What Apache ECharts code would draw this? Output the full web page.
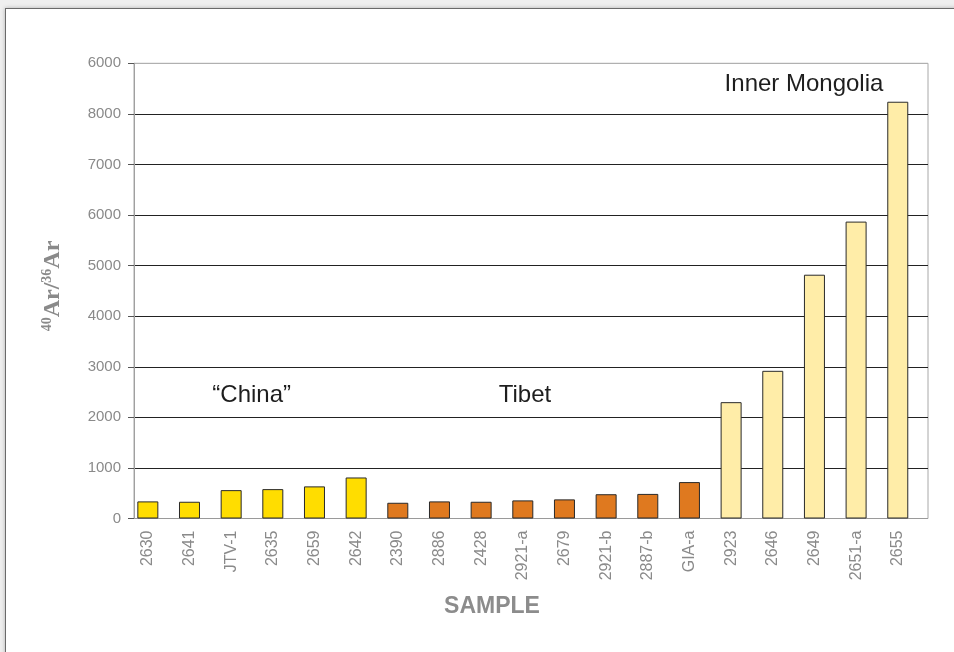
<!DOCTYPE html>
<html>
<head>
<meta charset="utf-8">
<script src="https://cdn.jsdelivr.net/npm/echarts@6/dist/echarts.min.js"></script>
<style>
  html, body { margin:0; padding:0; width:954px; height:652px; overflow:hidden; background:#efefef; }
  #card { position:absolute; left:5px; top:8px; width:1000px; height:700px; background:#fff;
          border:1px solid #6a6a6a; box-shadow:0 0 4px rgba(0,0,0,0.25); }
  #chart { position:absolute; left:0; top:0; width:954px; height:652px; }
</style>
</head>
<body>
<div id="card"></div>
<div id="chart"></div>
<script>
// ---- data ----
const chinaSamples = ['2630','2641','JTV-1','2635','2659','2642'];
const chinaValues  = [338, 331, 561, 581, 635, 811];
const tibetSamples = ['2390','2886','2428','2921-a','2679','2921-b','2887-b','GIA-a'];
const tibetValues  = [311, 338, 331, 358, 378, 480, 486, 720];
const mongoliaSamples = ['2923','2646','2649','2651-a','2655'];
const mongoliaValues  = [2300, 2920, 4820, 5870, 8240];
const yTickLabels = ['0','1000','2000','3000','4000','5000','6000','7000','8000','6000'];
const groupLabels = ['\u201CChina\u201D', 'Tibet', 'Inner Mongolia'];

// ---- build ----
const categories = chinaSamples.concat(tibetSamples, mongoliaSamples);
const colors = { china:'#FFDD00', tibet:'#DF791F', mongolia:'#FFEDA8' };
const barData = []
  .concat(chinaValues.map(v => ({ value:v, itemStyle:{ color:colors.china } })))
  .concat(tibetValues.map(v => ({ value:v, itemStyle:{ color:colors.tibet } })))
  .concat(mongoliaValues.map(v => ({ value:v, itemStyle:{ color:colors.mongolia } })));

const gridTop = 63.3, gridBottom = 652 - 518.5;
const splitColors = yTickLabels.map((t, i) => i === 0 ? '#9a9a9a' : (i === yTickLabels.length - 1 ? '#b0b0b0' : '#222222'));
const sans = 'Liberation Sans, Arial, sans-serif';
const serif = 'Liberation Serif, Times New Roman, serif';

const chart = echarts.init(document.getElementById('chart'), null, { renderer:'canvas' });
chart.setOption({
  backgroundColor:'transparent',
  animation:false,
  grid:[
    { left:134, right:26, top:gridTop, bottom:gridBottom, show:true, borderColor:'#a8a8a8', borderWidth:1, backgroundColor:'transparent' },
    { left:127, right:35.4, top:gridTop, bottom:gridBottom }
  ],
  xAxis:[
    { gridIndex:0, type:'value', min:0, max:1, show:false },
    { gridIndex:1, type:'category', data:categories,
      axisLine:{ show:false }, axisTick:{ show:false },
      axisLabel:{ rotate:90, margin:12, color:'#8a8a8a', fontSize:16, fontFamily:sans, interval:0 } }
  ],
  yAxis:[
    { gridIndex:0, type:'value', min:0, max:9000, interval:1000,
      axisLine:{ show:true, lineStyle:{ color:'#a0a0a0', width:1 } },
      axisTick:{ show:true, length:6, lineStyle:{ color:'#555' } },
      axisLabel:{ margin:13, color:'#8a8a8a', fontSize:15, fontFamily:sans,
                  formatter: v => yTickLabels[Math.round(v / 1000)] },
      splitLine:{ show:true, lineStyle:{ color:splitColors, width:1 } } },
    { gridIndex:1, type:'value', min:0, max:9000, show:false, splitLine:{ show:false } }
  ],
  series:[
    { type:'bar', xAxisIndex:1, yAxisIndex:1, data:barData, barWidth:21,
      itemStyle:{ borderColor:'#2a2a2a', borderWidth:1 } }
  ],
  graphic:[
    { type:'text', x:251.7, y:395, style:{ text:groupLabels[0], fill:'#1e1e1e', fontSize:24, fontFamily:sans, align:'center', verticalAlign:'middle' } },
    { type:'text', x:525, y:395, style:{ text:groupLabels[1], fill:'#1e1e1e', fontSize:24, fontFamily:sans, align:'center', verticalAlign:'middle' } },
    { type:'text', x:804, y:84.5, style:{ text:groupLabels[2], fill:'#1e1e1e', fontSize:24, fontFamily:sans, align:'center', verticalAlign:'middle' } },
    { type:'text', x:492, y:607, style:{ text:'SAMPLE', fill:'#8c8c8c', fontSize:23, fontWeight:'bold', fontFamily:sans, align:'center', verticalAlign:'middle' } },
    { type:'text', x:53, y:286, rotation:Math.PI/2,
      style:{ text:'{s|40}{m|Ar/}{s|36}{m|Ar}', align:'center', verticalAlign:'middle',
        rich:{
          s:{ fontSize:14, fontWeight:'bold', fill:'#8a8a8a', fontFamily:serif, verticalAlign:'top', lineHeight:26 },
          m:{ fontSize:24, fontWeight:'bold', fill:'#8a8a8a', fontFamily:serif, lineHeight:26 }
        } } }
  ]
});
</script>
</body>
</html>
